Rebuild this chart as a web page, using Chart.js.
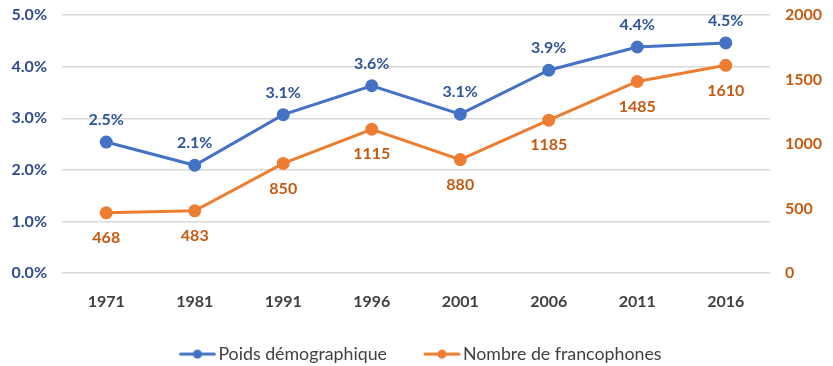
<!DOCTYPE html>
<html><head><meta charset="utf-8">
<script src="https://cdn.jsdelivr.net/npm/chart.js@4/dist/chart.umd.min.js"></script>
<style>html,body{margin:0;padding:0;background:#fff}#wrap{width:833px;height:366px}</style>
</head><body><div id="wrap"><canvas id="c" width="833" height="366"></canvas></div>
<script>
const years = ['1971','1981','1991','1996','2001','2006','2011','2016'];
const poids = [2.54, 2.09, 3.07, 3.63, 3.08, 3.93, 4.38, 4.46];
const nombre = [468, 483, 850, 1115, 880, 1185, 1485, 1610];
const seriesNames = ['Poids démographique', 'Nombre de francophones'];

const BLUE = '#4472C4', ORANGE = '#ED7D31';
const FONT = 'Lato, "Open Sans", sans-serif';

function legendIcon(color){
  const c = document.createElement('canvas');
  c.width = 52; c.height = 12;
  const x = c.getContext('2d');
  x.strokeStyle = color; x.lineWidth = 3; x.lineCap = 'round';
  x.beginPath(); x.moveTo(16,6); x.lineTo(50,6); x.stroke();
  x.fillStyle = color; x.beginPath(); x.arc(33,6,4.5,0,Math.PI*2); x.fill();
  return c;
}

const labelPlugin = {
  id:'vlabels',
  afterDatasetsDraw(chart){
    const ctx = chart.ctx;
    ctx.save();
    ctx.font = 'bold 16px ' + FONT;
    ctx.textAlign = 'center'; ctx.textBaseline = 'middle';
    chart.data.datasets.forEach((ds, i) => {
      const meta = chart.getDatasetMeta(i);
      meta.data.forEach((pt, j) => {
        const v = ds.data[j];
        if (i === 0) { ctx.fillStyle = '#2F5597'; ctx.fillText(v.toFixed(1) + '%', pt.x, pt.y - 22); }
        else { ctx.fillStyle = '#C55A11'; ctx.fillText(String(v), pt.x, pt.y + 25); }
      });
    });
    ctx.restore();
  }
};

new Chart(document.getElementById('c'), {
  type:'line',
  data:{
    labels: years,
    datasets:[
      {label: seriesNames[0], data: poids, yAxisID:'y', borderColor: BLUE, backgroundColor: BLUE, borderWidth:3, pointRadius:5, pointHoverRadius:5, pointStyle: 'circle', tension:0},
      {label: seriesNames[1], data: nombre, yAxisID:'y2', borderColor: ORANGE, backgroundColor: ORANGE, borderWidth:3, pointRadius:5, pointHoverRadius:5, pointStyle: 'circle', tension:0}
    ]
  },
  options:{
    responsive:false, animation:false,
    layout:{padding:{top:15, bottom:-7, left:0, right:0}},
    plugins:{
      tooltip:{enabled:false},
      legend:{
        position:'bottom',
        labels:{
          usePointStyle:true, pointStyleWidth:38, padding:29,
          color:'#404040', font:{family:FONT, size:17.8},
          generateLabels(chart){
            return chart.data.datasets.map((ds,i)=>({
              text: ds.label, fillStyle: ds.borderColor, strokeStyle: ds.borderColor,
              pointStyle: legendIcon(ds.borderColor), datasetIndex:i, hidden:false, lineWidth:0, fontColor:'#404040'
            }));
          }
        }
      }
    },
    scales:{
      x:{
        offset:true,
        grid:{display:false},
        border:{display:false},
        ticks:{color:'#404040', font:{family:FONT, size:16, weight:'bold'}, padding:11},
        afterFit(s){ s.height = 43; }
      },
      y:{
        position:'left', min:0, max:5,
        ticks:{stepSize:1, color:'#2F4A8C', font:{family:FONT, size:16, weight:'bold'}, padding:15,
          callback:v=>v.toFixed(1)+'%'},
        grid:{color:'#D9D9D9', lineWidth:1.5, drawTicks:false},
        border:{display:false},
        afterFit(s){ s.width = 62; s.paddingTop = 0; s.paddingBottom = 0; }
      },
      y2:{
        position:'right', min:0, max:2000,
        ticks:{stepSize:500, color:'#C55A11', font:{family:FONT, size:16, weight:'bold'}, padding:15, callback:v=>String(v)},
        grid:{display:false, drawTicks:false},
        border:{display:false},
        afterFit(s){ s.width = 63; s.paddingTop = 0; s.paddingBottom = 0; }
      }
    }
  },
  plugins:[labelPlugin]
});
</script></body></html>
